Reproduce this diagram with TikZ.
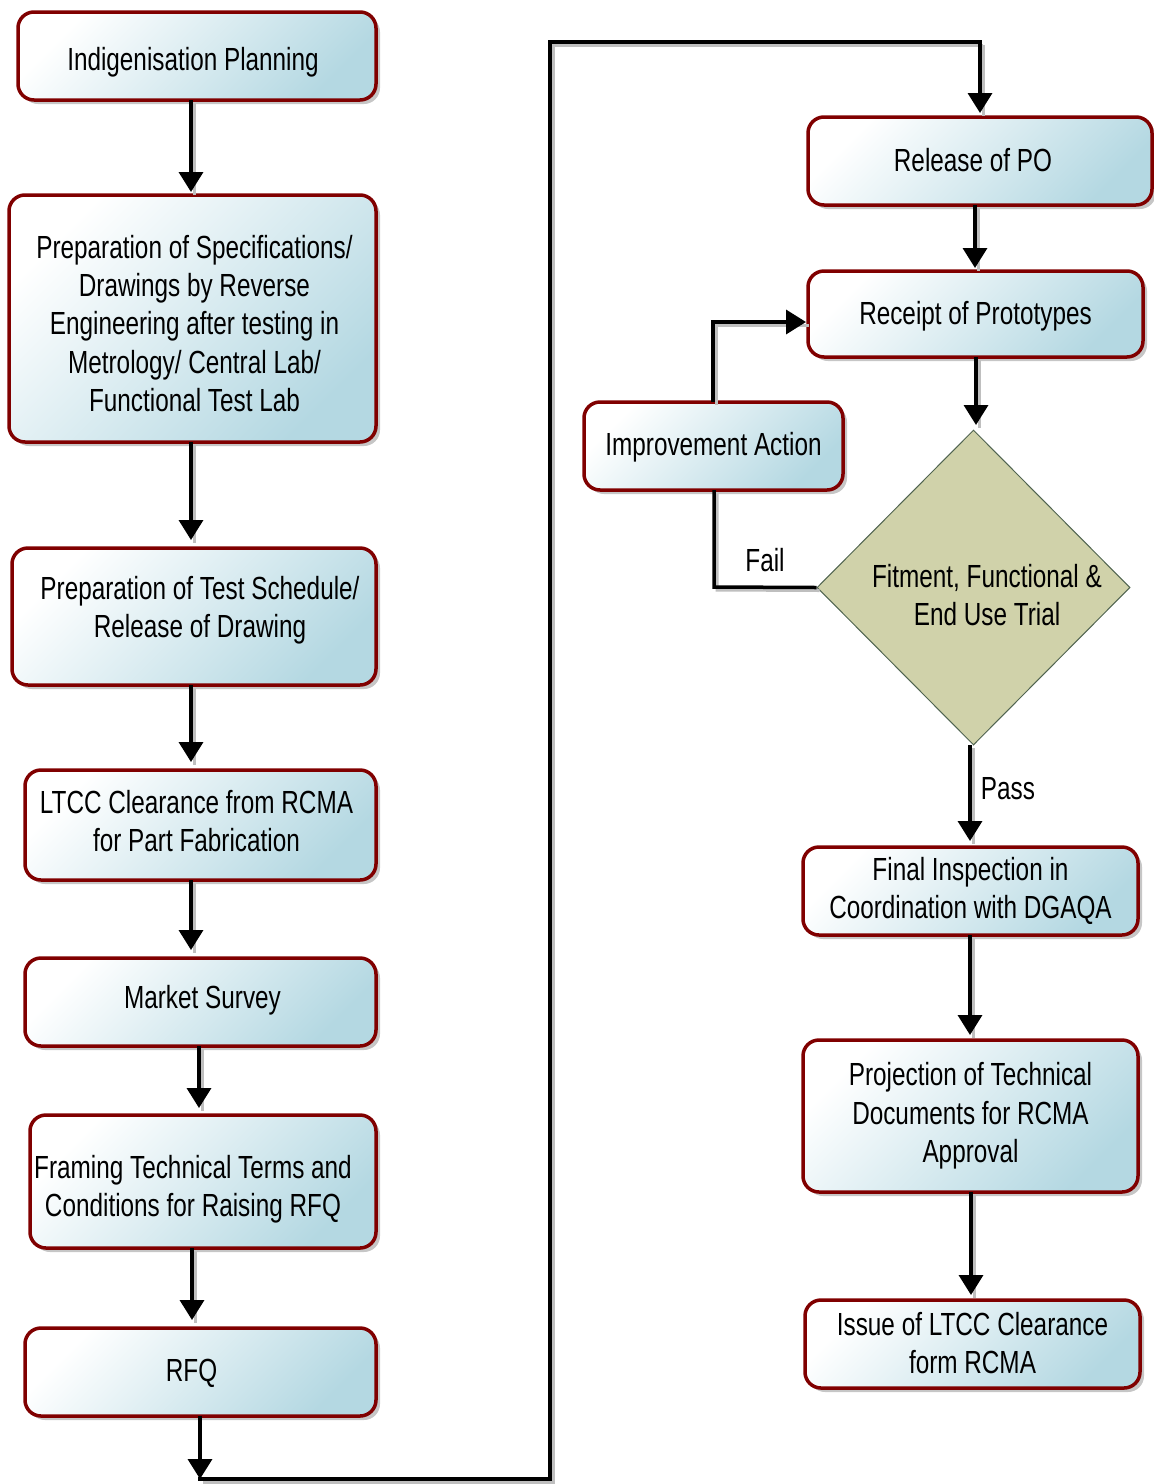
\documentclass[tikz,border=0pt]{standalone}
\usepackage{fontspec}
\setmainfont[FakeStretch=0.76]{Liberation Sans}
\usetikzlibrary{shapes.geometric,arrows.meta,shadows}
\definecolor{boxred}{RGB}{128,0,0}
\definecolor{boxblue}{RGB}{180,216,226}
\definecolor{dfill}{RGB}{208,210,170}
\definecolor{dline}{RGB}{80,100,80}
\tikzset{
  pbox/.style={draw=boxred, line width=3.5pt, rounded corners=16pt,
    top color=white, bottom color=boxblue, shading angle=45,
    drop shadow={shadow xshift=4pt, shadow yshift=-4pt, fill=gray!45, opacity=1},
    inner sep=0pt, align=center},
  dec/.style={diamond, draw=dline, line width=1pt, fill=dfill, inner sep=0pt, align=center},
  txt/.style={align=center, font=\fontsize{32}{38.3}\selectfont, inner sep=0pt},
  shd/.style={preaction={draw=gray!50, line width=3pt, arrows=-, transform canvas={shift={(3pt,-3pt)}}}},
  conn/.style={line width=3.5pt, -{Triangle[width=24pt,length=20pt]}},
  plain/.style={line width=3.5pt},
  lbl/.style={font=\fontsize{32}{38}\selectfont, inner sep=0pt}
}
\newcommand{\bx}[8]{% name, x1,y1,x2,y2, text xshift, text yshift, text
  \node[pbox, minimum width=#4-#2, minimum height=#5-#3] (#1) at ({(#2+#4)/2},{(#3+#5)/2}) {};
  \node[txt] (#1t) at ({(#2+#4)/2+#6},{(#3+#5)/2+#7}) {#8};
}
\begin{document}
\begin{tikzpicture}[x=1pt,y=-1pt]
\useasboundingbox (0,0) rectangle (1154,1484);
% left column
\bx{a}{18}{12}{376}{100}{-4}{6}{Indigenisation Planning}
\bx{b}{9}{195}{376}{442}{2}{5}{Preparation of Specifications/\\Drawings by Reverse\\Engineering after testing in\\Metrology/ Central Lab/\\Functional Test Lab}
\bx{c}{12}{548}{376}{685}{6}{-6}{Preparation of Test Schedule/\\Release of Drawing}
\bx{d}{25}{770}{376}{880}{-4}{-4}{LTCC Clearance from RCMA\\for Part Fabrication}
\bx{e}{25}{958}{376}{1046}{2}{-2}{Market Survey}
\bx{f}{30}{1115}{376}{1248}{-10}{8}{Framing Technical Terms and\\Conditions for Raising RFQ}
\bx{g}{25}{1328}{376}{1416}{-9}{1}{RFQ}
% right column
\bx{h}{808}{117}{1152}{205}{-7}{-1}{Release of PO}
\bx{i}{808}{271}{1143}{357}{0}{2}{Receipt of Prototypes}
\bx{j}{584}{402}{843}{490}{0}{1}{Improvement Action}
\node[dec, minimum width=313pt, minimum height=315pt] (k) at (973.5,587.5) {};
\node[txt] (kt) at (987,595) {Fitment, Functional \&\\End Use Trial};
\bx{l}{803}{847}{1138}{935}{0}{0}{Final Inspection in\\Coordination with DGAQA}
\bx{m}{803}{1040}{1138}{1192}{0}{0}{Projection of Technical\\Documents for RCMA\\Approval}
\bx{n}{805}{1300}{1140}{1388}{0}{-1}{Issue of LTCC Clearance\\form RCMA}
% coordinates
\coordinate (gb) at (200,1479);
\coordinate (c1) at (550,1479);
\coordinate (c2) at (550,42);
\coordinate (c3) at (980,42);
\coordinate (f1) at (714,587);
\coordinate (u1) at (713,322);
\coordinate (ks) at (970,745);
% connectors
\draw[conn, shd] (191,100) -- (191,192);
\draw[conn, shd] (191,442) -- (191,540);
\draw[conn, shd] (191,685) -- (191,762);
\draw[conn, shd] (191,880) -- (191,950);
\draw[conn, shd] (199,1046) -- (199,1108);
\draw[conn, shd] (192,1248) -- (192,1320);
\draw[conn] (200,1416) -- (gb);
\draw[plain, shd, line cap=rect] (gb) -- (c1) -- (c2) -- (c3);
\draw[conn, shd] (c3) -- (980,113);
\draw[conn, shd] (975,205) -- (975,268);
\draw[conn, shd] (976,357) -- (976,425);
\draw[plain, shd] (k.west) -- (f1) -- (714,490);
\draw[conn, shd] (713,402) -- (u1) -- (806,322);
\draw[conn, shd] (ks) -- (970,841);
\draw[conn, shd] (970,935) -- (970,1035);
\draw[conn, shd] (971,1192) -- (971,1295);
% labels
\node[lbl] (fail) at (765,560) {Fail};
\node[lbl] (pass) at (1008,789) {Pass};
\end{tikzpicture}
\end{document}
